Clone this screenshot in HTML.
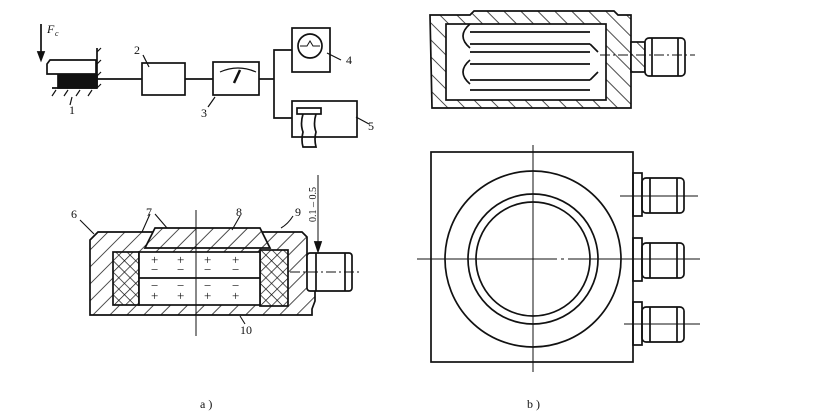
<!DOCTYPE html>
<html><head><meta charset="utf-8"><style>
html,body{margin:0;padding:0;background:#fff;}
svg{display:block;}
text{font-family:"Liberation Serif",serif;fill:#111;}
</style></head><body>
<svg width="813" height="420" viewBox="0 0 813 420" xmlns="http://www.w3.org/2000/svg">
<defs>
<pattern id="h" width="12" height="12" patternUnits="userSpaceOnUse" patternTransform="rotate(45)">
<rect width="12" height="12" fill="#fff"/><line x1="0" y1="0" x2="0" y2="12" stroke="#111" stroke-width="1.5"/></pattern>
<pattern id="h2" width="12" height="12" patternUnits="userSpaceOnUse" patternTransform="rotate(-45)">
<rect width="12" height="12" fill="#fff"/><line x1="0" y1="0" x2="0" y2="12" stroke="#111" stroke-width="1.5"/></pattern>
<pattern id="x" width="8" height="8" patternUnits="userSpaceOnUse" patternTransform="rotate(45)">
<rect width="8" height="8" fill="#fff"/><line x1="0" y1="0" x2="0" y2="8" stroke="#111" stroke-width="1.4"/><line x1="0" y1="0" x2="8" y2="0" stroke="#111" stroke-width="1.4"/></pattern>
</defs>
<g fill="none" stroke="#111" stroke-width="1.7">
<line x1="41" y1="24" x2="41" y2="56"/>
<polygon points="38,52 44,52 41,60" fill="#111"/>
<path d="M50,60 h46 v14 h-49 v-10 z"/>
<rect x="58" y="75" width="39" height="13" fill="#111"/>
<line x1="97" y1="48" x2="97" y2="88"/>
<path d="M97,52 l4,-4 M97,64 l4,-4 M97,76 l4,-4 M97,88 l4,-4 M52,96 l4,-6 M64,96 l4,-6 M76,96 l4,-6 M88,96 l4,-6" stroke-width="1.2"/>
<line x1="52" y1="88" x2="97" y2="88"/>
<line x1="97" y1="79" x2="142" y2="79"/>
<rect x="142" y="63" width="43" height="32"/>
<line x1="185" y1="79" x2="213" y2="79"/>
<rect x="213" y="62" width="46" height="33"/>
<path d="M220,72 q18,-8 36,0" stroke-width="1.2"/>
<line x1="234" y1="83" x2="240" y2="70" stroke-width="2.5"/>
<line x1="259" y1="79" x2="274" y2="79"/>
<polyline points="292,50 274,50 274,118 292,118"/>
<rect x="292" y="28" width="38" height="44"/>
<circle cx="310" cy="46" r="12"/>
<path d="M300,46 h7 l3,-5 l3,5 h7" stroke-width="1"/>
<rect x="292" y="101" width="65" height="36"/>
<rect x="297" y="108" width="24" height="6"/>
<path d="M303,114 q-3,10 0,18 q-2,8 0,15 h13 q-2,-8 0,-15 q-3,-8 0,-18" />
<path d="M72,97 l-2,8 M143,55 l6,12 M215,97 l-7,10 M327,53 l14,7 M356,117 l13,7" stroke-width="1.2"/>
<path d="M90,240 l8,-8 h174 l30,0 l5,5 v34 h8 v30 l-3,8 v6 h-222 z" fill="url(#h)"/>
<rect x="113" y="252" width="26" height="53" fill="url(#x)"/>
<rect x="260" y="250" width="28" height="56" fill="url(#x)"/>
<path d="M145,248 l10,-20 h105 l10,20 z" fill="url(#h)"/>
<rect x="139" y="252" width="121" height="53" fill="#fff"/>
<line x1="139" y1="278" x2="260" y2="278"/>
<rect x="307" y="253" width="45" height="38" rx="3" fill="#fff"/>
<line x1="316" y1="253" x2="316" y2="291"/><line x1="345" y1="253" x2="345" y2="291"/>
<line x1="290" y1="272" x2="360" y2="272" stroke-width="0.9" stroke-dasharray="10,3,2,3"/>
<line x1="196" y1="210" x2="196" y2="336" stroke-width="1"/>
<line x1="318" y1="175" x2="318" y2="250" stroke-width="1"/>
<polygon points="315,242 321,242 318,251" fill="#111"/>
<path d="M80,220 l14,14 M150,214 l-8,18 M155,214 l12,14 M240,216 l-8,14 M293,216 q-5,8 -12,12 M240,316 l5,8" stroke-width="1.1"/>
</g>
<g font-size="13">
<text x="151" y="264">+</text><text x="177" y="264">+</text><text x="204" y="264">+</text><text x="232" y="264">+</text>
<text x="151" y="274">−</text><text x="177" y="274">−</text><text x="204" y="274">−</text><text x="232" y="274">−</text>
<text x="151" y="290">−</text><text x="177" y="290">−</text><text x="204" y="290">−</text><text x="232" y="290">−</text>
<text x="151" y="300">+</text><text x="177" y="300">+</text><text x="204" y="300">+</text><text x="232" y="300">+</text>
</g>
<g fill="none" stroke="#111" stroke-width="1.7">
<path d="M430,15 h40 l4,-4 h140 l4,4 h13 v93 h-199 z" fill="url(#h2)"/>
<rect x="446" y="24" width="160" height="76" fill="#fff"/>
<path d="M470,24 q-14,12 0,24 M470,60 q-14,12 0,24" />
<line x1="470" y1="32" x2="590" y2="32"/><line x1="470" y1="44" x2="590" y2="44"/>
<line x1="470" y1="52" x2="590" y2="52"/><line x1="470" y1="64" x2="590" y2="64"/>
<line x1="470" y1="80" x2="590" y2="80"/><line x1="470" y1="90" x2="590" y2="90"/>
<path d="M590,44 l8,8 M590,80 l8,-8"/>
<rect x="631" y="42" width="14" height="30" fill="url(#h2)"/>
<rect x="645" y="38" width="40" height="38" rx="4" fill="#fff"/>
<line x1="652" y1="38" x2="652" y2="76"/><line x1="678" y1="38" x2="678" y2="76"/>
<line x1="600" y1="55" x2="695" y2="55" stroke-width="0.9" stroke-dasharray="10,3,2,3"/>
<rect x="431" y="152" width="202" height="210"/>
<circle cx="533" cy="259" r="88"/>
<circle cx="533" cy="259" r="65"/>
<circle cx="533" cy="259" r="57"/>
<line x1="533" y1="145" x2="533" y2="372" stroke-width="1"/>
<line x1="417" y1="259" x2="700" y2="259" stroke-width="1" stroke-dasharray="140,4,3,4"/>
<rect x="633" y="173" width="9" height="43"/><rect x="642" y="178" width="42" height="35" rx="4"/>
<line x1="650" y1="178" x2="650" y2="213"/><line x1="677" y1="178" x2="677" y2="213"/>
<line x1="620" y1="196" x2="698" y2="196" stroke-width="1"/>
<rect x="633" y="238" width="9" height="43"/><rect x="642" y="243" width="42" height="35" rx="4"/>
<line x1="650" y1="243" x2="650" y2="278"/><line x1="677" y1="243" x2="677" y2="278"/>
<rect x="633" y="302" width="9" height="43"/><rect x="642" y="307" width="42" height="35" rx="4"/>
<line x1="650" y1="307" x2="650" y2="342"/><line x1="677" y1="307" x2="677" y2="342"/>
<line x1="624" y1="324" x2="700" y2="324" stroke-width="1"/>
</g>
<g font-size="12" font-style="italic"><text x="47" y="33">F</text><text x="55" y="36" font-size="8">c</text></g>
<g font-size="12">
<text x="69" y="114">1</text><text x="134" y="54">2</text><text x="201" y="117">3</text><text x="346" y="64">4</text><text x="368" y="130">5</text>
<text x="71" y="218">6</text><text x="146" y="216">7</text><text x="236" y="216">8</text><text x="295" y="216">9</text><text x="240" y="334">10</text>
<text x="200" y="408">a )</text><text x="527" y="408">b )</text>
<text transform="translate(316,222) rotate(-90)" font-size="10">0.1 – 0.5</text>
</g>
</svg>
</body></html>
